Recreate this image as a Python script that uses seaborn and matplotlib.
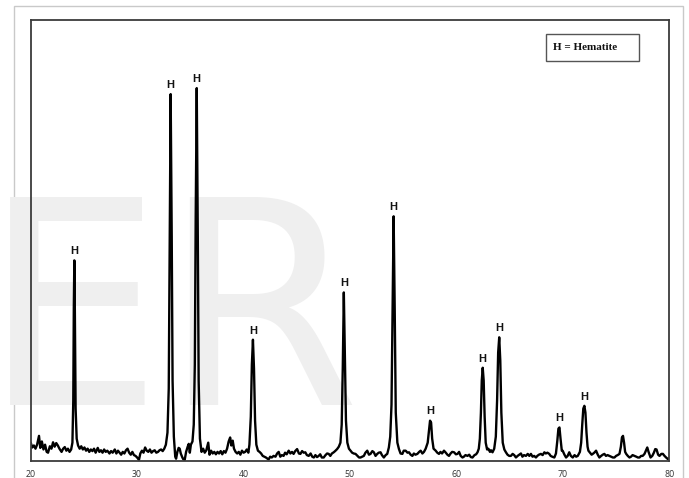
import numpy as np
import pandas as pd
import matplotlib
matplotlib.use("Agg")
import matplotlib.pyplot as plt
from matplotlib.patches import Rectangle
import seaborn as sns

# XRD pattern of the calcined sample (2-theta in degrees, intensity in counts)
two_theta = [
    20.0, 20.15, 20.3, 20.45, 20.6, 20.78, 20.9, 21.05, 21.2, 21.35, 21.5, 21.63, 21.8, 21.95,
    22.1, 22.25, 22.4, 22.55, 22.7, 22.9, 23.05, 23.2, 23.35, 23.5, 23.65, 23.8, 23.92, 24.0,
    24.05, 24.1, 24.15, 24.22, 24.32, 24.45, 24.6, 24.75, 24.9, 25.05, 25.2, 25.35, 25.5, 25.65,
    25.8, 25.95, 26.1, 26.3, 26.45, 26.6, 26.75, 26.9, 27.05, 27.2, 27.4, 27.55, 27.7, 27.9,
    28.05, 28.2, 28.35, 28.5, 28.65, 28.8, 28.95, 29.1, 29.25, 29.4, 29.55, 29.7, 29.85, 30.0,
    30.17, 30.3, 30.45, 30.6, 30.75, 30.9, 31.05, 31.2, 31.35, 31.5, 31.65, 31.8, 31.96, 32.1,
    32.25, 32.4, 32.55, 32.7, 32.85, 32.97, 33.05, 33.15, 33.25, 33.33, 33.45, 33.58, 33.66,
    33.78, 33.9, 34.0, 34.1, 34.25, 34.35, 34.47, 34.6, 34.75, 34.85, 34.95, 35.05, 35.2, 35.32,
    35.42, 35.5, 35.6, 35.7, 35.78, 35.9, 36.05, 36.2, 36.35, 36.5, 36.68, 36.8, 36.95, 37.1,
    37.25, 37.4, 37.55, 37.7, 37.85, 38.0, 38.15, 38.3, 38.45, 38.6, 38.74, 38.85, 38.98, 39.1,
    39.25, 39.4, 39.55, 39.7, 39.85, 40.0, 40.15, 40.3, 40.45, 40.55, 40.68, 40.78, 40.88, 40.98,
    41.08, 41.2, 41.35, 41.5, 41.65, 41.8, 41.95, 42.1, 42.25, 42.35, 42.5, 42.65, 42.82, 43.0,
    43.15, 43.3, 43.45, 43.6, 43.76, 43.9, 44.05, 44.24, 44.4, 44.55, 44.7, 44.85, 45.03, 45.2,
    45.34, 45.5, 45.65, 45.8, 45.95, 46.12, 46.3, 46.45, 46.6, 46.75, 46.9, 47.06, 47.2, 47.35,
    47.53, 47.7, 47.85, 48.0, 48.15, 48.3, 48.47, 48.6, 48.79, 48.95, 49.1, 49.22, 49.32, 49.42,
    49.52, 49.62, 49.75, 49.9, 50.05, 50.2, 50.35, 50.52, 50.7, 50.85, 50.99, 51.15, 51.3, 51.45,
    51.62, 51.78, 51.93, 52.1, 52.24, 52.4, 52.56, 52.7, 52.87, 53.0, 53.18, 53.35, 53.5, 53.65,
    53.78, 53.9, 54.0, 54.1, 54.2, 54.3, 54.45, 54.6, 54.75, 54.92, 55.05, 55.23, 55.4, 55.54,
    55.7, 55.86, 56.0, 56.15, 56.33, 56.5, 56.64, 56.8, 56.95, 57.11, 57.3, 57.42, 57.52, 57.62,
    57.72, 57.85, 58.05, 58.2, 58.36, 58.5, 58.65, 58.83, 59.0, 59.15, 59.3, 59.45, 59.6, 59.78,
    59.95, 60.1, 60.25, 60.4, 60.57, 60.7, 60.85, 61.04, 61.2, 61.35, 61.51, 61.7, 61.85, 61.98,
    62.1, 62.2, 62.3, 62.38, 62.47, 62.56, 62.65, 62.75, 62.88, 63.0, 63.15, 63.25, 63.39, 63.55,
    63.7, 63.82, 63.92, 64.02, 64.12, 64.22, 64.35, 64.5, 64.65, 64.8, 64.96, 65.12, 65.28, 65.43,
    65.59, 65.75, 65.9, 66.06, 66.2, 66.35, 66.53, 66.7, 66.85, 67.0, 67.15, 67.3, 67.47, 67.6,
    67.75, 67.94, 68.1, 68.26, 68.4, 68.55, 68.72, 68.85, 69.0, 69.2, 69.35, 69.48, 69.58, 69.68,
    69.78, 69.9, 69.98, 70.15, 70.3, 70.45, 70.6, 70.75, 70.93, 71.1, 71.25, 71.4, 71.6, 71.72,
    71.82, 71.92, 72.02, 72.12, 72.22, 72.32, 72.4, 72.55, 72.7, 72.81, 72.95, 73.12, 73.28, 73.43,
    73.6, 73.75, 73.9, 74.05, 74.2, 74.37, 74.55, 74.7, 74.85, 75.0, 75.15, 75.32, 75.45, 75.55,
    75.65, 75.75, 75.85, 75.95, 76.1, 76.26, 76.4, 76.55, 76.73, 76.9, 77.05, 77.2, 77.35, 77.5,
    77.67, 77.8, 77.93, 78.05, 78.24, 78.4, 78.55, 78.68, 78.8, 78.95, 79.08, 79.25, 79.4, 79.55,
    79.7, 79.87, 80.0,
]

intensity = [
    45, 33, 38, 30, 40, 62, 32, 48, 28, 40, 22, 20, 36, 30,
    46, 35, 44, 38, 30, 22, 30, 34, 25, 30, 22, 28, 45, 150,
    380, 500, 370, 130, 55, 38, 30, 36, 28, 33, 25, 30, 22, 28,
    24, 30, 20, 32, 22, 26, 20, 28, 22, 25, 18, 24, 20, 28,
    18, 25, 20, 15, 22, 18, 26, 30, 20, 15, 22, 14, 12, 8,
    2, 18, 25, 20, 33, 25, 22, 28, 20, 24, 26, 20, 22, 26,
    28, 24, 30, 40, 70, 180, 520, 915, 560, 200, 60, 10, 5,
    22, 32, 30, 18, 8, 3, 2, 22, 35, 42, 20, 40, 48, 90,
    240, 600, 930, 560, 200, 55, 22, 30, 20, 26, 45, 15, 25, 18,
    22, 16, 22, 18, 24, 16, 24, 20, 30, 48, 58, 38, 50, 30,
    22, 18, 22, 15, 25, 20, 22, 28, 20, 40, 110, 240, 302, 230,
    100, 40, 25, 22, 18, 12, 10, 8, 5, 3, 10, 8, 12, 10,
    18, 22, 10, 14, 12, 20, 16, 25, 18, 22, 17, 24, 29, 18,
    17, 24, 20, 21, 14, 12, 18, 10, 8, 14, 9, 12, 16, 8,
    8, 14, 18, 17, 12, 18, 21, 24, 29, 35, 45, 90, 230, 420,
    260, 100, 45, 30, 25, 20, 18, 17, 12, 8, 8, 10, 12, 20,
    25, 15, 17, 24, 21, 12, 17, 20, 21, 14, 8, 14, 17, 33,
    60, 140, 380, 610, 380, 120, 45, 29, 18, 17, 25, 25, 20, 21,
    15, 12, 18, 15, 17, 22, 25, 18, 22, 30, 45, 75, 100, 95,
    55, 30, 25, 20, 17, 22, 18, 25, 20, 15, 12, 18, 22, 21,
    16, 17, 22, 12, 8, 10, 14, 12, 15, 9, 8, 14, 16, 21,
    30, 55, 120, 200, 232, 200, 110, 45, 28, 30, 22, 26, 21, 30,
    60, 150, 270, 308, 250, 120, 45, 28, 21, 15, 12, 12, 17, 14,
    8, 12, 15, 18, 10, 14, 12, 17, 12, 17, 10, 12, 8, 12,
    15, 17, 14, 21, 18, 20, 17, 12, 10, 8, 18, 50, 80, 83,
    55, 25, 25, 15, 8, 12, 21, 12, 8, 14, 10, 12, 22, 45,
    90, 130, 137, 120, 70, 35, 25, 20, 15, 17, 20, 25, 15, 8,
    12, 15, 17, 12, 14, 12, 10, 8, 8, 12, 14, 17, 35, 58,
    62, 45, 22, 17, 12, 8, 10, 14, 12, 10, 8, 8, 12, 12,
    17, 25, 33, 22, 8, 12, 20, 29, 28, 15, 12, 17, 17, 12,
    8, 4, 6,
]

# Reflections indexed as hematite (alpha-Fe2O3)
hematite_peaks = [24.1, 33.15, 35.6, 40.88, 49.42, 54.1, 57.52, 62.47, 64.02, 69.68, 72.02]
peak_label = "H"
legend_text = "H = Hematite"
x_ticks = [20, 30, 40, 50, 60, 70, 80]

df = pd.DataFrame({"two_theta": two_theta, "intensity": intensity})

sns.set_style("white")
plt.rcParams["font.family"] = ["DejaVu Sans"]

W, H = 689, 478
fig = plt.figure(figsize=(W / 100, H / 100), dpi=100)
fig.patch.set_facecolor("white")

# light outer frame around the whole figure
fig.patches.append(Rectangle((14 / W, -0.05), (683 - 14) / W, (H - 6) / H + 0.05,
                             transform=fig.transFigure, fill=False,
                             ec="#c9c9c9", lw=1.0, zorder=-2))

# faint background lettering
fig.text(172 / W, (H - 405) / H, "ER", transform=fig.transFigure,
         fontsize=206, color="#efefef", ha="center", va="baseline",
         family="DejaVu Sans", zorder=-1)

ax_left, ax_right = 30.7, 669.3
ax_top, ax_bottom = 20.0, 460.7
ax = fig.add_axes([ax_left / W, (H - ax_bottom) / H,
                   (ax_right - ax_left) / W, (ax_bottom - ax_top) / H])
ax.patch.set_alpha(0)

sns.lineplot(data=df, x="two_theta", y="intensity", ax=ax, color="black",
             lw=1.7, sort=False, estimator=None)

ax.set_xlim(20, 80)
ax.set_ylim(0, 1100)
ax.set_xticks(x_ticks)
ax.set_xticklabels([str(t) for t in x_ticks], fontsize=6.3, color="#333333",
                   family="Open Sans")
ax.set_yticks([])
ax.set_xlabel("")
ax.set_ylabel("")
ax.tick_params(axis="x", length=0, pad=6.5)
for side in ax.spines.values():
    side.set_color("#3c3c3c")
    side.set_linewidth(1.3)

# peak labels above each hematite reflection
lookup = dict(zip(two_theta, intensity))
for pos in hematite_peaks:
    ax.annotate(peak_label, xy=(pos, lookup[pos]), xytext=(0, 3),
                textcoords="offset points", ha="center", va="bottom",
                fontsize=8, fontweight="bold", family="Liberation Sans",
                color="#111111")

# phase key box
ax.add_patch(Rectangle((0.807, 0.907), 0.1456, 0.061, transform=ax.transAxes,
                       fill=True, fc="white", ec="#555555", lw=1.0))
ax.text(0.818, 0.9375, legend_text, transform=ax.transAxes, ha="left",
        va="center", fontsize=8, fontweight="bold", family="Liberation Serif",
        color="#111111")

fig.savefig("out.png", dpi=100)
